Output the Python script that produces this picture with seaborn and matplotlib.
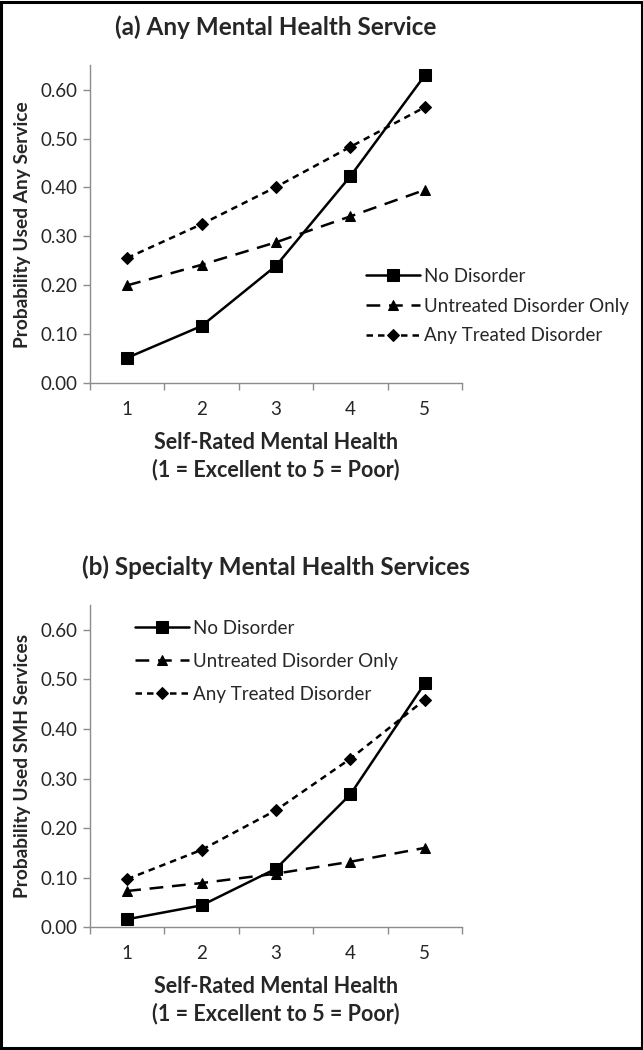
import numpy as np
import pandas as pd
import matplotlib
matplotlib.use('Agg')
import matplotlib.pyplot as plt
from matplotlib.patches import Rectangle
import seaborn as sns

# dữ liệu
ratings = [1, 2, 3, 4, 5]
groups = ['No Disorder', 'Untreated Disorder Only', 'Any Treated Disorder']

# (a) Any Mental Health Service
any_no = [0.052, 0.117, 0.240, 0.423, 0.629]
any_untreated = [0.200, 0.242, 0.288, 0.341, 0.395]
any_treated = [0.256, 0.325, 0.401, 0.483, 0.564]

# (b) Specialty Mental Health Services
smh_no = [0.016, 0.044, 0.118, 0.268, 0.492]
smh_untreated = [0.073, 0.089, 0.108, 0.132, 0.160]
smh_treated = [0.097, 0.156, 0.236, 0.340, 0.459]

titles = ['(a) Any Mental Health Service', '(b) Specialty Mental Health Services']
ylabels = ['Probability Used Any Service', 'Probability Used SMH Services']
xlabel = 'Self-Rated Mental Health\n(1 = Excellent to 5 = Poor)'
yticks = [0.0, 0.1, 0.2, 0.3, 0.4, 0.5, 0.6]


def make_df(no, untreated, treated):
    rows = []
    for g, vals in zip(groups, [no, untreated, treated]):
        for r, v in zip(ratings, vals):
            rows.append({'rating': r, 'prob': v, 'group': g})
    return pd.DataFrame(rows)


df_a = make_df(any_no, any_untreated, any_treated)
df_b = make_df(smh_no, smh_untreated, smh_treated)

sns.set_style('white')
plt.rcParams['font.family'] = ['Lato', 'DejaVu Sans']

fig = plt.figure(figsize=(6.43, 10.5), dpi=100)
ax_a = fig.add_axes([0.140, 0.635, 0.5785, 0.303])
ax_b = fig.add_axes([0.140, 0.117, 0.5785, 0.3067])

markers = {'No Disorder': 's', 'Untreated Disorder Only': '^', 'Any Treated Disorder': 'D'}
dashes = {'No Disorder': '', 'Untreated Disorder Only': (5.5, 3.5), 'Any Treated Disorder': (2.6, 2)}
gray = '#8c8c8c'

for ax, df, title, ylab in zip([ax_a, ax_b], [df_a, df_b], titles, ylabels):
    sns.lineplot(data=df, x='rating', y='prob', hue='group', style='group',
                 hue_order=groups, style_order=groups,
                 palette=['black'] * 3, markers=markers, dashes=dashes,
                 linewidth=1.8, markersize=8, markeredgecolor='black', ax=ax)
    # kích thước marker riêng cho từng đường
    for line in ax.get_lines():
        if line.get_marker() == 'D':
            line.set_markersize(6.5)
        elif line.get_marker() == '^':
            line.set_markersize(7.5)
    ax.set_xlim(0.5, 5.5)
    ax.set_ylim(0, 0.65)
    ax.set_xticks(ratings)
    ax.set_xticks([0.5, 1.5, 2.5, 3.5, 4.5, 5.5], minor=True)
    ax.set_yticks(yticks)
    ax.set_yticklabels([f'{t:.2f}' for t in yticks])
    ax.tick_params(axis='x', which='major', length=0, labelsize=13.5, pad=13)
    ax.tick_params(axis='x', which='minor', length=5, color=gray, width=1, direction='out', bottom=True)
    ax.tick_params(axis='y', length=5, color=gray, width=1, direction='out', left=True, labelsize=13.5, pad=4)
    for s in ['top', 'right']:
        ax.spines[s].set_visible(False)
    for s in ['left', 'bottom']:
        ax.spines[s].set_color(gray)
        ax.spines[s].set_linewidth(1)
    ax.set_xlabel(xlabel, fontsize=15.5, fontweight='bold', labelpad=10, linespacing=1.3)
    ax.set_ylabel(ylab, fontsize=13.8, fontweight='bold', labelpad=7)
    ax.set_title(title, fontsize=17.5, fontweight='bold', pad=22)
    ax.get_legend().remove()

handles, labels = ax_a.get_legend_handles_labels()
ax_a.legend(handles, labels, loc='upper left', bbox_to_anchor=(0.557, 0.752), bbox_transform=fig.transFigure,
            frameon=False, fontsize=13.5, handlelength=2.9, handletextpad=0.2, labelspacing=0.68,
            borderaxespad=0)
handles, labels = ax_b.get_legend_handles_labels()
ax_b.legend(handles, labels, loc='upper left', bbox_to_anchor=(0.198, 0.417), bbox_transform=fig.transFigure,
            frameon=False, fontsize=13.5, handlelength=2.9, handletextpad=0.2, labelspacing=0.85,
            borderaxespad=0)

# khung viền ngoài
fig.add_artist(Rectangle((0.002, 0.0015), 0.996, 0.997, transform=fig.transFigure,
                         fill=False, edgecolor='black', linewidth=2.2))

fig.savefig('out.png', dpi=100)
